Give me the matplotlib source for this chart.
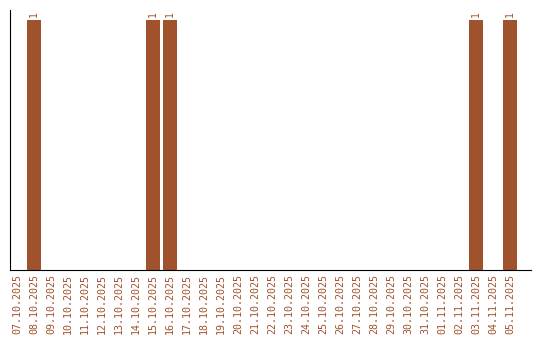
import matplotlib
matplotlib.use("Agg")
import matplotlib.pyplot as plt

dates = ["07.10.2025", "08.10.2025", "09.10.2025", "10.10.2025", "11.10.2025",
         "12.10.2025", "13.10.2025", "14.10.2025", "15.10.2025", "16.10.2025",
         "17.10.2025", "18.10.2025", "19.10.2025", "20.10.2025", "21.10.2025",
         "22.10.2025", "23.10.2025", "24.10.2025", "25.10.2025", "26.10.2025",
         "27.10.2025", "28.10.2025", "29.10.2025", "30.10.2025", "31.10.2025",
         "01.11.2025", "02.11.2025", "03.11.2025", "04.11.2025", "05.11.2025"]
counts = [0, 1, 0, 0, 0, 0, 0, 0, 1, 1,
          0, 0, 0, 0, 0, 0, 0, 0, 0, 0,
          0, 0, 0, 0, 0, 0, 0, 1, 0, 1]

col = "#A0522D"
plt.rcParams['font.family'] = ['DejaVu Sans Mono']

fig = plt.figure(figsize=(5.4, 3.4), dpi=100)
ax = fig.add_axes([10/540, 70/340, 521/540, 260/340])

x = list(range(len(dates)))
bars = ax.bar(x, counts, width=0.82, color=col)
for xi, v in zip(x, counts):
    if v > 0:
        ax.text(xi, v + 0.012, str(v), rotation=90, ha="center", va="bottom",
                fontsize=7, color=col)

ax.set_xlim(-0.41, 30.24)
ax.set_ylim(0, 1.04)
ax.set_xticks(x)
ax.set_xticklabels(dates, rotation=90, fontsize=7.2, color=col)
ax.tick_params(axis="x", length=0, pad=3)
ax.set_yticks([])
ax.spines["top"].set_visible(False)
ax.spines["right"].set_visible(False)

fig.savefig("out.png", dpi=100)
